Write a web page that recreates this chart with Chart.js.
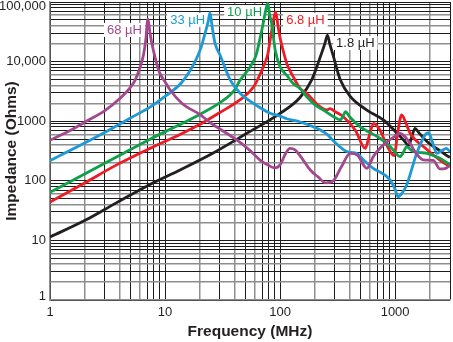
<!DOCTYPE html>
<html>
<head>
<meta charset="utf-8">
<script src="https://cdn.jsdelivr.net/npm/chart.js@4"></script>
<style>
  body { margin: 0; background: #fff; }
</style>
</head>
<body>
<canvas id="impedance" width="453" height="342"></canvas>
<script>
// tick labels shown on the axes
const xTickValues = [1, 10, 100, 1000];
const xTickLabels = ["1", "10", "100", "1000"];
const yTickValues = [1, 10, 100, 1000, 10000, 100000];
const yTickLabels = ["1", "10", "100", "1000", "10,000", "100,000"];

const seriesNames = ["68 µH", "33 µH", "10 µH", "6.8 µH", "1.8 µH"];

// frequency (MHz) / impedance (Ohms)
const freq68 = [1, 1.5, 2, 3, 4, 5, 5.5, 6, 6.5, 6.8, 7.1, 7.4, 7.9, 8.5, 9, 10, 11, 14, 20, 26, 30, 42, 55, 67, 80, 90, 100, 112, 122, 135, 150, 183, 215, 250, 290, 340, 407, 470, 568, 650, 738, 850, 1000, 1103, 1250, 1350, 1500, 1760, 2150, 2450, 2750, 3000];
const imp68 = [480, 700, 960, 1500, 2350, 3700, 4900, 7500, 13000, 23000, 52000, 30000, 15700, 9000, 6400, 4600, 3400, 2000, 1300, 880, 740, 484, 320, 223, 180, 165, 185, 290, 350, 330, 260, 152, 115, 92, 100, 170, 289, 270, 162, 260, 351, 450, 560, 627, 520, 424, 300, 225, 220, 158, 162, 185];

const freq33 = [1, 2, 3.3, 5, 7.4, 10, 14, 18, 20.5, 22.3, 23.6, 24.6, 25.6, 27.2, 30, 36.7, 45, 58.5, 82, 100, 114, 150, 190, 222, 260, 290, 380, 470, 530, 650, 740, 900, 1000, 1060, 1150, 1260, 1400, 1500, 1650, 1820, 1950, 2100, 2300, 2550, 2800, 3000];
const imp33 = [218, 430, 720, 1130, 1720, 2600, 4500, 9500, 17000, 30000, 45000, 66000, 40000, 20300, 13000, 5000, 2950, 2000, 1360, 1220, 1100, 970, 820, 720, 590, 470, 310, 285, 225, 160, 140, 105, 72, 54, 62, 85, 160, 250, 400, 590, 640, 460, 290, 320, 350, 305];

const freq10 = [1, 2, 4, 7.4, 13.5, 20, 30, 40, 45, 55, 62, 67.4, 71, 74, 76.5, 78, 79.5, 81, 84.3, 90.6, 100, 115, 130, 150, 170, 200, 238, 290, 333, 355, 370, 400, 495, 600, 738, 900, 1000, 1100, 1180, 1260, 1400, 1600, 1900, 2200, 2450, 3000];
const imp10 = [64, 130, 265, 500, 880, 1300, 2050, 3300, 4900, 8200, 13000, 26000, 42000, 64000, 85000, 95000, 80000, 62000, 45000, 15700, 8200, 5800, 4300, 3500, 2580, 1900, 1540, 1200, 1050, 1250, 1450, 1200, 809, 650, 517, 380, 300, 254, 300, 375, 320, 300, 289, 260, 239, 186];

const freq68n = [1, 2, 3.8, 7.4, 13.5, 20, 30, 45, 58.5, 71.5, 78, 82, 87.6, 91.5, 96.2, 100, 106, 115, 130, 149, 170, 222, 254, 272, 300, 355, 450, 550, 600, 650, 738, 846, 980, 1060, 1140, 1250, 1350, 1760, 2450, 3000];
const imp68n = [44, 92, 185, 350, 600, 880, 1400, 2300, 3700, 8220, 13000, 23000, 49900, 68000, 38500, 25000, 15700, 9000, 5590, 3560, 2940, 1750, 1540, 1620, 1450, 1190, 711, 351, 600, 922, 711, 398, 265, 700, 1270, 900, 627, 375, 223, 172];

const freq18 = [1, 2, 3.8, 7.4, 13.5, 26, 51, 100, 149, 188, 222, 245, 258, 270, 290, 333, 407, 568, 790, 1030, 1200, 1310, 1400, 1490, 1600, 1900, 2450, 2900, 3000];
const imp18 = [11.4, 21.5, 43, 87, 152, 290, 620, 1350, 2500, 4900, 11500, 20000, 27900, 20000, 12500, 5000, 2600, 1540, 1050, 640, 470, 390, 560, 760, 650, 453, 320, 255, 248];

const seriesFreq = [freq68, freq33, freq10, freq68n, freq18];
const seriesImp = [imp68, imp33, imp10, imp68n, imp18];
const seriesColors = ["#a3488f", "#1d9ad6", "#0ea04b", "#ed1c24", "#231f20"];

// where the curve names sit (data coords) and which side the text runs
const nameSpots = [
  { x: 6.3, y: 34000, align: "right" },
  { x: 22.3, y: 50000, align: "right" },
  { x: 69.7, y: 68000, align: "right" },
  { x: 113, y: 50000, align: "left" },
  { x: 307, y: 20500, align: "left" }
];

const FONT = "'Liberation Sans', Arial, Helvetica, sans-serif";

function logTicks(max) {
  const out = [];
  for (let e = 1; e <= max; e *= 10) {
    for (let s = 1; s <= 9; s++) {
      if (s * e <= max) out.push(s * e);
    }
  }
  return out;
}

function significand(v) {
  return Math.round(v / Math.pow(10, Math.floor(Math.log10(v) + 1e-9)));
}
function gridColor(ctx) {
  return [2, 4, 6].includes(significand(ctx.tick.value)) ? "#8e8e8e" : "#1c1c1c";
}
function gridWidth(ctx) {
  return [2, 4, 6].includes(significand(ctx.tick.value)) ? 1.5 : 1;
}

const datasets = seriesNames.map((name, i) => ({
  label: name,
  data: seriesFreq[i].map((f, j) => ({ x: f, y: seriesImp[i][j] })),
  borderColor: seriesColors[i],
  borderWidth: 2.8,
  pointRadius: 0,
  fill: false,
  cubicInterpolationMode: "monotone"
}));

const curveNames = {
  id: "curveNames",
  beforeDatasetsDraw(chart) {
    const { ctx, scales } = chart;
    ctx.save();
    ctx.font = "13px " + FONT;
    ctx.textBaseline = "middle";
    nameSpots.forEach((spot, i) => {
      const px = scales.x.getPixelForValue(spot.x);
      const py = scales.y.getPixelForValue(spot.y);
      const w = ctx.measureText(seriesNames[i]).width;
      const x0 = spot.align === "right" ? px - w : px;
      ctx.fillStyle = "#fff";
      ctx.fillRect(x0 - 3, py - 7, w + 6, 14);
      ctx.fillStyle = seriesColors[i];
      ctx.textAlign = "left";
      ctx.fillText(seriesNames[i], x0, py + 0.5);
    });
    ctx.restore();
  }
};

const yMin = yTickValues[0];
const yMax = yTickValues[yTickValues.length - 1];

new Chart(document.getElementById("impedance"), {
  type: "line",
  data: { datasets },
  plugins: [curveNames],
  options: {
    responsive: false,
    animation: false,
    layout: { padding: { top: 2, right: 3, left: 0, bottom: 0 } },
    plugins: { legend: { display: false }, tooltip: { enabled: false } },
    scales: {
      x: {
        type: "logarithmic",
        min: 1,
        max: 3000,
        afterBuildTicks: (scale) => { scale.ticks = logTicks(3000).map(v => ({ value: v })); },
        afterFit: (scale) => { scale.height = 42; scale.paddingLeft = 0; scale.paddingRight = 0; },
        grid: { color: gridColor, lineWidth: gridWidth, drawTicks: false },
        border: { color: "#8e8e8e", width: 1.5 },
        ticks: {
          autoSkip: false,
          maxRotation: 0,
          padding: 5,
          color: "#231f20",
          font: { family: FONT, size: 13 },
          callback: (v) => { const i = xTickValues.indexOf(v); return i >= 0 ? xTickLabels[i] : ""; }
        },
        title: {
          display: true,
          text: "Frequency (MHz)",
          color: "#231f20",
          font: { family: FONT, size: 15.5, weight: "bold" },
          padding: { top: 0, bottom: 1 }
        }
      },
      y: {
        type: "logarithmic",
        min: yMin,
        max: yMax,
        afterBuildTicks: (scale) => { scale.ticks = logTicks(yMax).map(v => ({ value: v })); },
        afterFit: (scale) => { scale.width = 50; scale.paddingTop = 0; scale.paddingBottom = 0; },
        grid: { color: gridColor, lineWidth: gridWidth, drawTicks: false },
        border: { color: "#8e8e8e", width: 1.5 },
        ticks: {
          autoSkip: false,
          padding: 4,
          color: "#231f20",
          // the end labels are nudged inside the frame, as in the original
          font: (ctx) => {
            const v = ctx.tick && ctx.tick.value;
            return { family: FONT, size: 13, lineHeight: (v === yMin || v === yMax) ? "8px" : 1.2 };
          },
          callback: (v) => {
            const i = yTickValues.indexOf(v);
            if (i < 0) return "";
            if (v === yMax) return ["", yTickLabels[i]];
            if (v === yMin) return [yTickLabels[i], ""];
            return yTickLabels[i];
          }
        },
        title: {
          display: true,
          text: "Impedance (Ohms)",
          color: "#231f20",
          font: { family: FONT, size: 15.5, weight: "bold" },
          padding: { top: 2, bottom: 0 }
        }
      }
    }
  }
});
</script>
</body>
</html>
